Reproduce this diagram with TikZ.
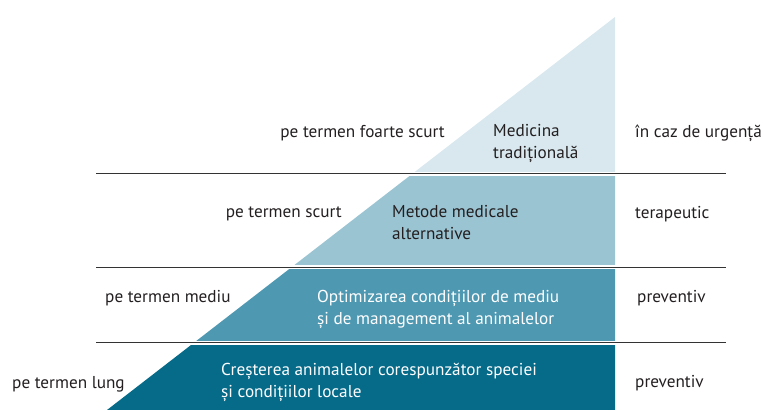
\documentclass[tikz,border=0pt]{standalone}
\usepackage{fontspec}
\setmainfont{PT Sans}
\definecolor{bandA}{HTML}{D8E8EE}
\definecolor{bandB}{HTML}{9BC4D3}
\definecolor{bandC}{HTML}{4E98B2}
\definecolor{bandD}{HTML}{066A89}
\definecolor{txt}{HTML}{231F20}
\definecolor{rule}{HTML}{333333}
\tikzset{
  lbl/.style={inner sep=0pt, text=txt, font=\fontsize{17.2}{21.5}\selectfont},
  lblw/.style={lbl, text=white},
  sep/.style={draw=rule, line width=0.9pt},
  gap/.style={draw=white, line width=4pt}
}
\begin{document}
\begin{tikzpicture}[x=1pt,y=-1pt]
\useasboundingbox (0,0) rectangle (763,410);
% triangle bands
\coordinate (apex) at (615,17);
\coordinate (bl) at (107,410);
\coordinate (br) at (615,410);
\begin{scope}
  \clip (bl) -- (apex) -- (br) -- cycle;
  \fill[bandA] (0,0) rectangle (763,173.5);
  \fill[bandB] (0,173.5) rectangle (763,267);
  \fill[bandC] (0,267) rectangle (763,342.5);
  \fill[bandD] (0,342.5) rectangle (763,410);
\end{scope}
% separator lines
\coordinate (l1a) at (96,173.5); \coordinate (l1b) at (726,173.5);
\coordinate (l2a) at (96,267);   \coordinate (l2b) at (726,267);
\coordinate (l3a) at (96,342.5); \coordinate (l3b) at (726,342.5);
\foreach \a/\b in {l1a/l1b,l2a/l2b,l3a/l3b}{
  \path[gap] ([xshift=-1pt]\a) -- ([xshift=1pt]\b);
  \path[sep] (\a) -- (\b);
}
% left labels
\node[lbl, anchor=base east] (t1) at (445,137) {pe termen foarte scurt};
\node[lbl, anchor=base east] (t2) at (342,217) {pe termen scurt};
\node[lbl, anchor=base west] (t3) at (105,302) {pe termen mediu};
\node[lbl, anchor=base west] (t4) at (12,388) {pe termen lung};
% middle labels (base anchor = last line)
\node[lbl, anchor=base west, align=left] (m1) at (493,158) {Medicina\\tradițională};
\node[lbl, anchor=base west, align=left] (m2) at (392,239) {Metode medicale\\alternative};
\node[lblw, anchor=base west, align=left] (m3) at (317,324) {Optimizarea condițiilor de mediu\\și de management al animalelor};
\node[lblw, anchor=base west, align=left] (m4) at (221,397) {Creșterea animalelor corespunzător speciei\\și condițiilor locale};
% right labels
\node[lbl, anchor=base west] (r1) at (635,137) {în caz de urgență};
\node[lbl, anchor=base west] (r2) at (635,218) {terapeutic};
\node[lbl, anchor=base west] (r3) at (637,302) {preventiv};
\node[lbl, anchor=base west] (r4) at (635,387) {preventiv};
\end{tikzpicture}
\end{document}
